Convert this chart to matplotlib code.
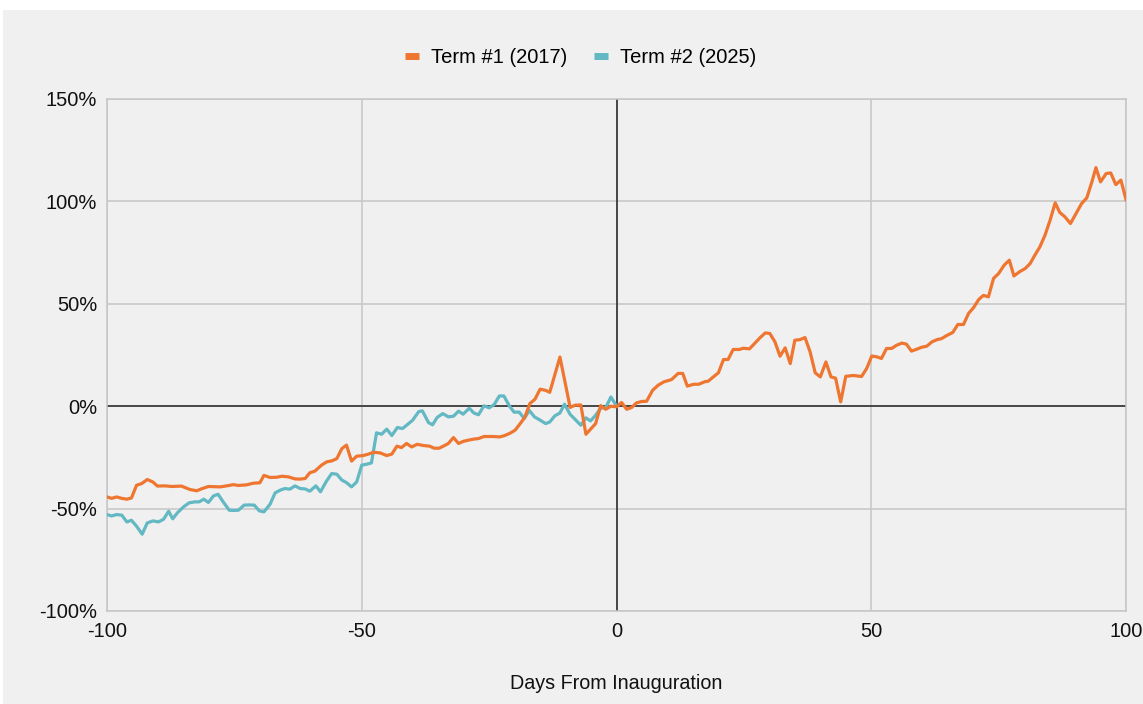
import matplotlib.pyplot as plt
from matplotlib.patches import Rectangle
from matplotlib.ticker import FuncFormatter

# Term #1 (2017): days from inauguration, % change
term1_days = [-100, -99.1, -98.1, -97.1, -96.1, -95.2, -94.2, -93.2, -92.1, -91.0, -90.1, -88.6, -87.3,
              -85.4, -83.7, -82.4, -81.4, -80.1, -77.8, -76.5, -75.2, -74.2, -72.6, -71.3, -70.0, -69.2,
              -68.0, -66.7, -65.7, -64.4, -63.1, -62.1, -61.1, -60.2, -59.2, -57.9, -56.9, -55.9, -54.9,
              -53.9, -53.0, -52.0, -51.0, -49.7, -48.7, -47.7, -46.4, -45.1, -44.1, -43.1, -42.2, -41.2,
              -40.2, -39.1, -37.9, -36.7, -35.8, -34.8, -33.9, -33.0, -32.0, -31.0, -30.1, -29.1, -28.1,
              -27.1, -26.0, -24.2, -22.9, -21.9, -20.9, -19.9, -18.9, -18.0, -17.0, -16.0, -15.0, -14.0,
              -13.1, -11.1, -9.1, -8.1, -7.0, -6.0, -5.1, -4.1, -3.1, -2.1, -1.1, 0.0, 1.0, 2.0, 3.0,
              3.9, 4.9, 5.9, 7.1, 8.2, 9.3, 10.8, 12.1, 13.0, 13.9, 15.1, 16.1, 17.4, 18.0, 19.0, 20.0,
              21.0, 21.9, 22.9, 24.1, 24.9, 26.1, 27.2, 28.2, 29.2, 30.1, 31.1, 32.1, 33.1, 34.1, 35.0,
              36.0, 37.0, 38.0, 39.0, 40.0, 41.1, 42.1, 43.0, 44.0, 45.0, 46.5, 48.1, 49.1, 50.1, 51.1,
              52.0, 53.0, 54.0, 55.0, 56.0, 56.9, 57.9, 58.9, 59.9, 60.9, 61.9, 62.9, 63.8, 64.8, 66.0,
              67.0, 68.1, 69.1, 70.1, 71.1, 72.0, 73.0, 74.0, 75.0, 76.1, 77.1, 78.0, 79.2, 80.2, 81.2,
              82.1, 83.1, 84.1, 85.1, 86.1, 87.0, 88.0, 89.1, 90.2, 91.3, 92.3, 93.3, 94.1, 95.0, 96.1,
              97.0, 98.0, 99.0, 100.0]
term1_vals = [-44.3, -45.0, -44.3, -45.0, -45.4, -44.8, -38.6, -37.8, -35.8, -37.0, -39.0, -38.9, -39.2,
              -39.0, -40.7, -41.3, -40.3, -39.2, -39.4, -38.9, -38.3, -38.7, -38.4, -37.6, -37.4, -33.8,
              -34.8, -34.7, -34.2, -34.5, -35.5, -35.6, -35.3, -32.5, -31.7, -28.8, -27.2, -26.7, -25.6,
              -20.7, -19.0, -26.8, -24.4, -24.1, -23.4, -22.5, -22.8, -24.1, -23.4, -19.5, -20.2, -18.2,
              -19.9, -18.6, -19.2, -19.5, -20.5, -20.5, -19.4, -18.2, -15.3, -18.2, -17.2, -16.6, -16.1,
              -15.8, -14.8, -14.8, -15.0, -14.3, -13.2, -11.7, -8.5, -5.4, 1.3, 3.4, 8.3, 7.8,
              6.8, 24.0, -0.6, 0.5, 0.6, -13.7, -11.2, -8.5, 0.3, -1.5, 0.0, -0.3, 1.8, -1.5, -0.6,
              1.6, 2.3, 2.4, 7.8, 10.3, 11.9, 13.0, 16.0, 16.0, 9.8, 10.7, 10.7, 12.0, 12.2, 14.3, 16.3,
              22.8, 22.8, 27.7, 27.7, 28.3, 28.0, 30.9, 33.5, 35.8, 35.5, 31.4, 24.4, 28.5, 20.8, 32.2,
              32.5, 33.5, 26.5, 16.3, 14.3, 21.6, 14.3, 13.7, 2.1, 14.6, 15.0, 14.5, 18.4, 24.5, 24.1,
              23.3, 28.2, 28.2, 29.8, 30.8, 30.3, 26.9, 27.8, 28.8, 29.3, 31.4, 32.5, 33.0, 34.5, 36.0,
              39.9, 39.9, 45.3, 48.2, 52.1, 54.1, 53.4, 62.4, 64.8, 68.9, 71.3, 63.6, 65.8, 67.2, 69.7,
              73.7, 77.8, 83.5, 90.8, 99.3, 94.6, 92.5, 89.2, 94.1, 99.0, 101.7, 109.5, 116.5, 109.5, 113.6,
              113.9, 108.2, 110.4, 100.9]

# Term #2 (2025)
term2_days = [-100, -99.1, -98.1, -97.1, -96.1, -95.2, -94.2, -93.1, -92.1, -91.0, -89.9, -88.9, -87.9,
              -87.1, -86.2, -85.0, -83.9, -82.7, -81.9, -81.0, -80.1, -79.1, -78.2, -77.2, -76.0, -75.2,
              -74.2, -73.1, -72.1, -71.1, -70.1, -69.2, -68.0, -67.0, -66.0, -65.1, -64.1, -63.1, -62.1,
              -61.1, -60.2, -59.0, -58.1, -56.9, -55.9, -54.9, -53.9, -53.0, -52.0, -51.0, -50.0, -49.0,
              -48.1, -47.1, -46.1, -45.1, -44.1, -43.0, -42.0, -41.2, -40.0, -38.8, -38.1, -36.9, -36.1,
              -35.2, -34.1, -33.0, -32.0, -31.0, -30.1, -28.9, -28.0, -27.1, -26.0, -25.0, -24.0, -23.0,
              -22.1, -21.0, -20.1, -19.1, -18.1, -17.1, -16.1, -15.0, -13.9, -13.1, -12.1, -11.1, -10.2,
              -9.1, -8.1, -7.0, -6.0, -5.1, -4.1, -3.1, -2.1, -1.1, -0.1]
term2_vals = [-52.9, -53.6, -52.9, -53.2, -56.5, -55.7, -58.6, -62.5, -57.0, -56.0, -56.5, -55.2, -51.3,
              -55.0, -52.1, -49.2, -47.2, -46.7, -46.7, -45.4, -47.0, -43.8, -43.0, -46.7, -50.8, -50.9,
              -50.8, -48.3, -48.2, -48.3, -51.1, -51.6, -47.9, -42.3, -41.0, -40.2, -40.5, -38.9, -40.2,
              -40.4, -41.5, -38.9, -41.8, -36.5, -32.9, -33.2, -36.1, -37.3, -39.4, -37.0, -28.8, -28.3,
              -27.7, -13.0, -13.7, -11.2, -14.3, -10.4, -10.9, -9.3, -6.8, -2.6, -2.3, -8.0, -9.1,
              -5.5, -3.6, -5.2, -4.9, -2.4, -3.9, -1.0, -3.3, -4.2, 0.2, -0.8, 0.8, 5.0,
              5.0, 0.0, -2.9, -2.9, -6.0, -2.1, -5.2, -6.8, -8.5, -7.7, -4.7, -3.3, 1.0,
              -4.0, -6.5, -9.3, -5.7, -7.2, -4.4, -1.0, -0.6, 4.5, 0.5]

x_ticks = [-100, -50, 0, 50, 100]
y_ticks = [-100, -50, 0, 50, 100, 150]

orange = '#ee7630'
teal = '#62b8c3'
bg = '#f0f0f0'
grid_col = '#c6c6c6'

plt.rcParams['font.family'] = ['Liberation Sans', 'DejaVu Sans']
plt.rcParams['axes.unicode_minus'] = False

fig = plt.figure(figsize=(11.43, 7.04), dpi=100, facecolor='white')
fig.patches.append(Rectangle((3 / 1143, 0), 1, 1 - 10 / 704, transform=fig.transFigure,
                             facecolor=bg, edgecolor='none', zorder=-10))
ax = fig.add_axes([107 / 1143, 1 - 611 / 704, (1126 - 107) / 1143, (611 - 99) / 704])
ax.set_facecolor(bg)

ax.plot(term1_days, term1_vals, color=orange, linewidth=2.3, label='Term #1 (2017)', zorder=4)
ax.plot(term2_days, term2_vals, color=teal, linewidth=2.3, label='Term #2 (2025)', zorder=3)

ax.set_xlim(-100, 100)
ax.set_ylim(-100, 150)
ax.set_xticks(x_ticks)
ax.set_yticks(y_ticks)
ax.yaxis.set_major_formatter(FuncFormatter(lambda v, p: f'{int(v)}%'))
ax.grid(True, color=grid_col, linewidth=1.1)
ax.axhline(0, color='#222222', linewidth=1.1, zorder=2)
ax.axvline(0, color='#222222', linewidth=1.1, zorder=2)
for s in ax.spines.values():
    s.set_color(grid_col)
    s.set_linewidth(1.1)
ax.tick_params(length=0, labelsize=14.5, colors='#111111', pad=7)
ax.tick_params(axis='x', pad=8)
ax.set_xlabel('Days From Inauguration', fontsize=14.2, color='#111111', labelpad=24)

leg = ax.legend(loc='upper center', bbox_to_anchor=(0.465, 1.135), ncol=2, frameon=False,
                fontsize=14.5, handlelength=0.7, handletextpad=0.6, columnspacing=1.3)
for h in leg.get_lines():
    h.set_linewidth(5)
    h.set_solid_capstyle('butt')

fig.savefig('out.png', dpi=100, facecolor=fig.get_facecolor())
